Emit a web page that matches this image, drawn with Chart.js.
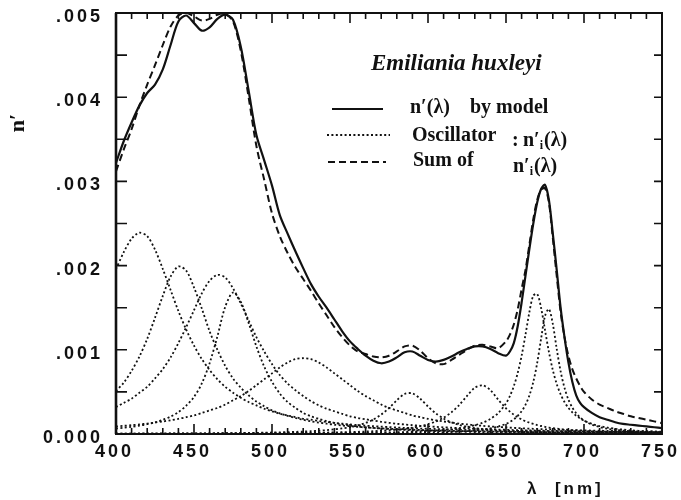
<!DOCTYPE html>
<html>
<head>
<meta charset="utf-8">
<script src="https://cdn.jsdelivr.net/npm/chart.js@4"></script>
<style>
  html, body { margin: 0; padding: 0; background: #fff; }
  #wrap { width: 681px; height: 500px; }
</style>
</head>
<body>
<div id="wrap"><canvas id="nChart" width="681" height="500"></canvas></div>
<script>
// wavelength grid (nm), finer around the 675 nm peak
const wavelength = [400,405,410,415,420,425,430,435,440,445,450,455,460,465,470,475,480,485,490,495,
  500,505,510,515,520,525,530,535,540,545,550,555,560,565,570,575,580,585,590,595,
  600,605,610,615,620,625,630,635,640,645,650,
  652.5,655,657.5,660,662.5,665,667.5,670,672.5,675,677.5,680,682.5,685,687.5,690,692.5,695,697.5,
  700,705,710,715,720,725,730,735,740,745,750];

const xTicks = [400,450,500,550,600,650,700,750];
const yTicks = [0,1,2,3,4,5];            // n' in units of 0.001
const yTickLabels = ['0.000','.001','.002','.003','.004','.005'];

// n'(λ) by model (x 0.001)
const modelN = [3.22,3.48,3.70,3.90,4.05,4.15,4.33,4.62,4.90,4.97,4.88,4.79,4.83,4.93,4.98,4.92,4.60,4.08,3.55,3.25,
  2.95,2.60,2.38,2.17,1.97,1.78,1.63,1.50,1.36,1.22,1.10,1.01,0.93,0.87,0.84,0.86,0.91,0.97,0.98,0.93,
  0.88,0.86,0.88,0.92,0.97,1.01,1.04,1.04,1.01,0.96,0.93,
  0.98,1.08,1.28,1.56,1.88,2.20,2.50,2.75,2.91,2.96,2.78,2.38,1.95,1.50,1.15,0.85,0.62,0.46,0.37,
  0.32,0.25,0.20,0.17,0.14,0.12,0.11,0.10,0.09,0.08,0.07];

// sum of oscillators (x 0.001)
const sumN = [3.12,3.38,3.62,3.90,4.15,4.38,4.62,4.84,4.97,5.00,4.96,4.91,4.93,4.98,4.99,4.90,4.55,4.00,3.42,3.02,
  2.62,2.35,2.15,1.98,1.84,1.70,1.55,1.41,1.27,1.15,1.05,0.98,0.95,0.92,0.91,0.93,0.98,1.04,1.05,0.99,
  0.90,0.84,0.83,0.88,0.94,1.00,1.05,1.06,1.04,1.02,1.10,
  1.18,1.30,1.48,1.72,1.95,2.25,2.55,2.78,2.90,2.92,2.75,2.33,1.88,1.45,1.15,0.93,0.77,0.66,0.57,
  0.50,0.41,0.35,0.31,0.27,0.24,0.21,0.19,0.17,0.15,0.13];

// single oscillators n'i(λ) (x 0.001)
const osc1 = [1.96,2.16,2.32,2.39,2.35,2.19,1.96,1.71,1.46,1.24,1.05,0.89,0.76,0.65,0.56,0.49,0.43,0.38,0.34,0.30,
  0.27,0.24,0.22,0.20,0.18,0.17,0.155,0.143,0.132,0.123,0.114,0.106,0.099,0.093,0.087,0.082,0.077,0.073,0.069,0.065,
  0.062,0.059,0.056,0.053,0.051,0.048,0.046,0.044,0.042,0.040,0.039,
  0.038,0.037,0.037,0.036,0.035,0.035,0.034,0.033,0.033,0.032,0.032,0.031,0.030,0.030,0.029,0.029,0.028,0.028,0.027,
  0.027,0.026,0.025,0.024,0.023,0.022,0.021,0.020,0.020,0.019,0.018];
const osc2 = [0.51,0.61,0.75,0.92,1.13,1.38,1.64,1.87,1.99,1.94,1.74,1.49,1.22,1.00,0.81,0.66,0.55,0.46,0.385,0.33,
  0.28,0.245,0.215,0.19,0.168,0.15,0.135,0.122,0.11,0.10,0.092,0.084,0.078,0.072,0.067,0.062,0.058,0.054,0.051,0.048,
  0.045,0.042,0.040,0.038,0.036,0.034,0.032,0.030,0.029,0.028,0.026,
  0.026,0.025,0.025,0.024,0.024,0.023,0.023,0.022,0.022,0.021,0.021,0.020,0.020,0.020,0.019,0.019,0.019,0.018,0.018,
  0.017,0.017,0.016,0.016,0.015,0.015,0.014,0.014,0.013,0.013,0.012];
const osc3 = [0.32,0.37,0.42,0.49,0.56,0.66,0.77,0.91,1.08,1.27,1.47,1.67,1.82,1.89,1.86,1.73,1.55,1.35,1.15,0.98,
  0.83,0.70,0.60,0.52,0.45,0.39,0.34,0.30,0.27,0.24,0.21,0.19,0.175,0.16,0.145,0.133,0.122,0.113,0.105,0.097,
  0.091,0.085,0.079,0.075,0.070,0.066,0.063,0.059,0.056,0.053,0.050,
  0.049,0.047,0.046,0.045,0.044,0.043,0.042,0.040,0.039,0.038,0.037,0.036,0.036,0.035,0.034,0.033,0.033,0.032,0.031,
  0.031,0.030,0.028,0.027,0.026,0.025,0.024,0.023,0.022,0.022,0.021];
const osc4 = [0.065,0.074,0.085,0.099,0.116,0.139,0.168,0.207,0.26,0.336,0.44,0.60,0.84,1.16,1.51,1.68,1.57,1.32,1.04,0.80,
  0.62,0.48,0.38,0.31,0.25,0.21,0.18,0.153,0.132,0.115,0.101,0.090,0.080,0.072,0.065,0.058,0.053,0.048,0.044,0.041,
  0.038,0.035,0.032,0.030,0.028,0.026,0.025,0.023,0.022,0.021,0.020,
  0.020,0.019,0.019,0.018,0.018,0.017,0.017,0.016,0.016,0.015,0.015,0.015,0.014,0.014,0.014,0.013,0.013,0.013,0.012,
  0.012,0.012,0.011,0.011,0.010,0.010,0.010,0.009,0.009,0.009,0.008];
const osc5 = [0.090,0.097,0.105,0.114,0.124,0.136,0.149,0.163,0.18,0.20,0.22,0.25,0.28,0.31,0.35,0.40,0.45,0.51,0.58,0.65,
  0.72,0.79,0.85,0.89,0.90,0.89,0.85,0.79,0.72,0.65,0.58,0.51,0.45,0.40,0.35,0.31,0.28,0.25,0.22,0.20,
  0.18,0.163,0.149,0.136,0.124,0.114,0.105,0.097,0.090,0.084,0.078,
  0.075,0.073,0.070,0.068,0.066,0.064,0.062,0.060,0.058,0.056,0.055,0.053,0.052,0.050,0.049,0.047,0.046,0.045,0.044,
  0.043,0.041,0.039,0.037,0.035,0.034,0.032,0.031,0.030,0.029,0.027];
const osc6 = [0.004,0.004,0.004,0.005,0.005,0.005,0.005,0.006,0.006,0.006,0.007,0.007,0.008,0.009,0.010,0.011,0.012,0.013,0.014,0.016,
  0.018,0.020,0.022,0.025,0.029,0.033,0.039,0.046,0.055,0.066,0.082,0.103,0.132,0.173,0.231,0.309,0.401,0.475,0.483,0.419,
  0.327,0.245,0.183,0.139,0.108,0.085,0.069,0.057,0.047,0.040,0.034,
  0.032,0.030,0.028,0.026,0.025,0.024,0.022,0.020,0.019,0.018,0.018,0.017,0.016,0.015,0.015,0.014,0.013,0.013,0.012,
  0.011,0.010,0.009,0.009,0.008,0.007,0.007,0.006,0.006,0.006,0.005];
const osc7 = [0.003,0.003,0.003,0.003,0.003,0.003,0.004,0.004,0.004,0.004,0.005,0.005,0.005,0.006,0.006,0.006,0.007,0.007,0.008,0.008,
  0.009,0.010,0.011,0.012,0.013,0.014,0.016,0.017,0.019,0.021,0.023,0.026,0.029,0.033,0.038,0.044,0.052,0.062,0.075,0.093,
  0.116,0.148,0.194,0.257,0.344,0.452,0.550,0.578,0.521,0.408,0.305,
  0.266,0.230,0.199,0.174,0.152,0.134,0.119,0.106,0.095,0.085,0.077,0.070,0.064,0.058,0.053,0.049,0.045,0.042,0.039,
  0.036,0.032,0.028,0.025,0.022,0.020,0.018,0.016,0.015,0.014,0.012];
const osc8 = [0.002,0.002,0.002,0.003,0.003,0.003,0.003,0.003,0.003,0.003,0.004,0.004,0.004,0.004,0.004,0.005,0.005,0.005,0.006,0.006,
  0.006,0.006,0.007,0.007,0.008,0.008,0.009,0.009,0.010,0.011,0.012,0.013,0.014,0.015,0.017,0.019,0.021,0.023,0.026,0.030,
  0.035,0.040,0.047,0.056,0.067,0.082,0.104,0.134,0.179,0.248,0.364,
  0.451,0.568,0.724,0.928,1.18,1.448,1.643,1.663,1.497,1.235,0.975,0.760,0.595,0.472,0.380,0.311,0.258,0.217,0.184,
  0.158,0.120,0.094,0.076,0.062,0.052,0.044,0.038,0.032,0.029,0.025];
const osc9 = [0.001,0.001,0.001,0.001,0.001,0.001,0.001,0.001,0.001,0.001,0.002,0.002,0.002,0.002,0.002,0.002,0.002,0.002,0.002,0.002,
  0.003,0.003,0.003,0.003,0.004,0.004,0.004,0.004,0.005,0.005,0.006,0.006,0.007,0.007,0.008,0.009,0.010,0.011,0.012,0.014,
  0.016,0.018,0.021,0.024,0.029,0.034,0.042,0.052,0.067,0.088,0.120,
  0.144,0.174,0.215,0.270,0.347,0.458,0.618,0.844,1.132,1.402,1.484,1.307,1.012,0.745,0.548,0.409,0.314,0.246,0.197,
  0.161,0.112,0.083,0.063,0.050,0.040,0.033,0.028,0.024,0.020,0.018];

const ink = '#111';
const oscillators = [osc1, osc2, osc3, osc4, osc5, osc6, osc7, osc8, osc9];

function pts(vals) {
  return vals.map((v, i) => ({x: wavelength[i], y: v}));
}

// first dataset is drawn on top
const datasets = [
  {data: pts(modelN), borderColor: ink, borderWidth: 2.2},
  {data: pts(sumN), borderColor: ink, borderWidth: 2, borderDash: [7, 4]}
];
oscillators.forEach(o => {
  datasets.push({data: pts(o), borderColor: ink, borderWidth: 1.8, borderDash: [2, 2.4]});
});

// n' with subscript i, then (λ)
function drawNi(ctx, x, y, size) {
  ctx.font = 'bold ' + size + 'px "Liberation Serif"';
  ctx.fillText('n\u2032', x, y);
  let w = ctx.measureText('n\u2032').width;
  ctx.font = 'bold ' + Math.round(size * 0.6) + 'px "Liberation Serif"';
  ctx.fillText('i', x + w, y + 3);
  w += ctx.measureText('i').width + 1;
  ctx.font = 'bold ' + size + 'px "Liberation Serif"';
  ctx.fillText('(\u03bb)', x + w, y);
}

const frame = {
  id: 'frame',
  afterDraw(chart) {
    const {ctx, chartArea: a, scales: {x, y}} = chart;
    ctx.save();
    ctx.strokeStyle = ink;
    ctx.fillStyle = ink;
    ctx.lineWidth = 2;
    ctx.strokeRect(a.left, a.top, a.right - a.left, a.bottom - a.top);
    ctx.lineWidth = 2.6;
    ctx.beginPath();
    ctx.moveTo(a.left, a.top); ctx.lineTo(a.left, a.bottom);
    ctx.stroke();

    // inward ticks
    ctx.lineWidth = 1.6;
    ctx.beginPath();
    for (let v = 400; v <= 750; v += 10) {
      const px = x.getPixelForValue(v);
      const len = v % 50 === 0 ? 10 : 6;
      ctx.moveTo(px, a.bottom); ctx.lineTo(px, a.bottom - len);
      ctx.moveTo(px, a.top); ctx.lineTo(px, a.top + len);
    }
    for (let v = 0.5; v < 5; v += 0.5) {
      const py = y.getPixelForValue(v);
      ctx.moveTo(a.left, py); ctx.lineTo(a.left + 11, py);
      ctx.moveTo(a.right, py); ctx.lineTo(a.right - 8, py);
    }
    ctx.stroke();

    // tick labels
    ctx.letterSpacing = '3px';
    ctx.font = 'bold 18px "Liberation Sans"';
    ctx.textBaseline = 'middle';
    ctx.textAlign = 'right';
    yTicks.forEach((v, i) => {
      ctx.fillText(yTickLabels[i], a.left - 13, y.getPixelForValue(v) + 4);
    });
    ctx.textAlign = 'center';
    xTicks.forEach(v => {
      ctx.fillText(String(v), x.getPixelForValue(v) - 1.5, a.bottom + 18);
    });

    // axis titles
    ctx.textAlign = 'left';
    ctx.textBaseline = 'alphabetic';
    ctx.font = 'bold 17px "Liberation Sans"';
    ctx.fillText('\u03bb  [nm]', 527, 494);
    ctx.letterSpacing = '0px';
    ctx.save();
    ctx.translate(24, 123);
    ctx.rotate(-Math.PI / 2);
    ctx.textAlign = 'center';
    ctx.font = 'bold 22px "Liberation Serif"';
    ctx.fillText('n\u2032', 0, 0);
    ctx.restore();

    // title
    ctx.textAlign = 'left';
    ctx.font = 'italic bold 23px "Liberation Serif"';
    ctx.fillText('Emiliania huxleyi', 371, 70);

    // legend samples
    ctx.lineWidth = 2;
    ctx.setLineDash([]);
    ctx.beginPath(); ctx.moveTo(332, 109); ctx.lineTo(383, 109); ctx.stroke();
    ctx.lineWidth = 1.8;
    ctx.setLineDash([2, 2.4]);
    ctx.beginPath(); ctx.moveTo(327, 135); ctx.lineTo(390, 135); ctx.stroke();
    ctx.lineWidth = 2;
    ctx.setLineDash([7, 4]);
    ctx.beginPath(); ctx.moveTo(328, 162); ctx.lineTo(386, 162); ctx.stroke();
    ctx.setLineDash([]);

    // legend texts
    ctx.font = 'bold 20px "Liberation Serif"';
    ctx.fillText('n\u2032(\u03bb)', 410, 113);
    ctx.fillText('by model', 470, 113);
    ctx.fillText('Oscillator', 412, 141);
    ctx.fillText(':', 512, 146);
    drawNi(ctx, 523, 146, 20);
    ctx.font = 'bold 20px "Liberation Serif"';
    ctx.fillText('Sum of', 413, 166);
    drawNi(ctx, 513, 172, 20);
    ctx.restore();
  }
};

new Chart('nChart', {
  type: 'line',
  data: {datasets: datasets},
  options: {
    responsive: false,
    animation: false,
    devicePixelRatio: 1,
    layout: {padding: {left: 116, right: 19, top: 13, bottom: 66}},
    elements: {point: {radius: 0}, line: {tension: 0.3, fill: false}},
    plugins: {legend: {display: false}, tooltip: {enabled: false}},
    scales: {
      x: {type: 'linear', min: 400, max: 750, display: false},
      y: {min: 0, max: 5, display: false}
    }
  },
  plugins: [frame]
});
</script>
</body>
</html>
